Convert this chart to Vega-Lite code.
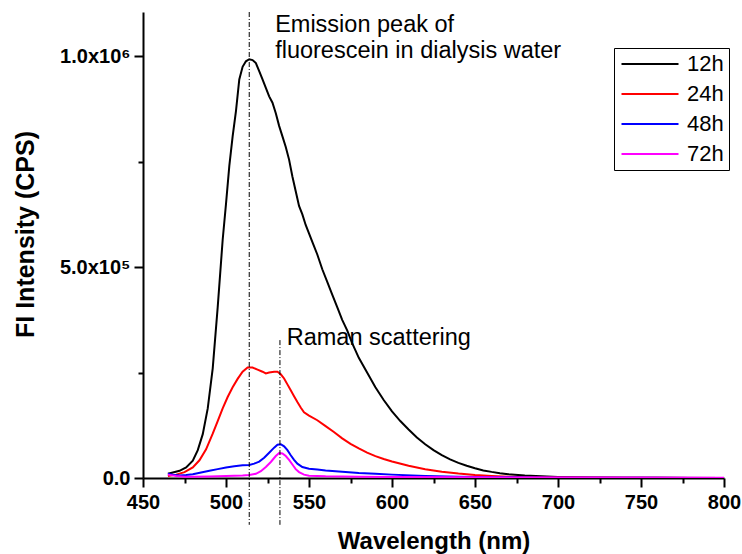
{
  "$schema": "https://vega.github.io/schema/vega-lite/v6.json",
  "width": 581,
  "height": 466,
  "autosize": {"type": "none"},
  "padding": {"left": 143, "top": 12, "right": 18, "bottom": 76},
  "config": {
    "font": "Liberation Sans",
    "view": {"stroke": null},
    "axis": {"grid": false, "domainColor": "#000", "tickColor": "#000", "labelColor": "#000", "titleColor": "#000", "domainWidth": 2, "tickWidth": 2, "labelFlush": false}
  },
  "datasets": {
    "curves": [
      {"s":"12h","w":465,"v":10000},{"s":"12h","w":468,"v":13000},{"s":"12h","w":472,"v":17000},{"s":"12h","w":476,"v":25000},{"s":"12h","w":480,"v":41000},{"s":"12h","w":483,"v":66000},{"s":"12h","w":486,"v":104000},{"s":"12h","w":489,"v":165000},{"s":"12h","w":492,"v":260000},{"s":"12h","w":495,"v":405000},{"s":"12h","w":498,"v":565000},{"s":"12h","w":500,"v":650000},{"s":"12h","w":502,"v":740000},{"s":"12h","w":504,"v":810000},{"s":"12h","w":506,"v":870000},{"s":"12h","w":508,"v":945000},{"s":"12h","w":510,"v":975000},{"s":"12h","w":512,"v":988000},{"s":"12h","w":514,"v":993000},{"s":"12h","w":516,"v":991000},{"s":"12h","w":518,"v":984000},{"s":"12h","w":520,"v":965000},{"s":"12h","w":522,"v":945000},{"s":"12h","w":524,"v":925000},{"s":"12h","w":526,"v":905000},{"s":"12h","w":528,"v":890000},{"s":"12h","w":530,"v":865000},{"s":"12h","w":532,"v":835000},{"s":"12h","w":534,"v":810000},{"s":"12h","w":536,"v":785000},{"s":"12h","w":538,"v":755000},{"s":"12h","w":540,"v":715000},{"s":"12h","w":542,"v":680000},{"s":"12h","w":544,"v":645000},{"s":"12h","w":546,"v":625000},{"s":"12h","w":548,"v":600000},{"s":"12h","w":550,"v":580000},{"s":"12h","w":552,"v":560000},{"s":"12h","w":555,"v":530000},{"s":"12h","w":558,"v":495000},{"s":"12h","w":561,"v":465000},{"s":"12h","w":564,"v":435000},{"s":"12h","w":567,"v":405000},{"s":"12h","w":570,"v":375000},{"s":"12h","w":573,"v":350000},{"s":"12h","w":576,"v":320000},{"s":"12h","w":580,"v":285000},{"s":"12h","w":585,"v":250000},{"s":"12h","w":590,"v":215000},{"s":"12h","w":595,"v":185000},{"s":"12h","w":600,"v":158000},{"s":"12h","w":605,"v":135000},{"s":"12h","w":610,"v":115000},{"s":"12h","w":615,"v":96000},{"s":"12h","w":620,"v":80000},{"s":"12h","w":625,"v":66000},{"s":"12h","w":630,"v":54000},{"s":"12h","w":635,"v":44000},{"s":"12h","w":640,"v":36000},{"s":"12h","w":645,"v":29000},{"s":"12h","w":650,"v":23000},{"s":"12h","w":655,"v":18000},{"s":"12h","w":660,"v":14500},{"s":"12h","w":665,"v":11500},{"s":"12h","w":670,"v":9000},{"s":"12h","w":680,"v":6000},{"s":"12h","w":690,"v":4000},{"s":"12h","w":700,"v":2500},{"s":"12h","w":710,"v":1500},{"s":"12h","w":720,"v":1000},{"s":"12h","w":740,"v":500},{"s":"12h","w":760,"v":300},{"s":"12h","w":780,"v":200},{"s":"12h","w":800,"v":100},
      {"s":"24h","w":465,"v":5000},{"s":"24h","w":470,"v":8000},{"s":"24h","w":475,"v":14000},{"s":"24h","w":480,"v":25000},{"s":"24h","w":484,"v":42000},{"s":"24h","w":488,"v":68000},{"s":"24h","w":492,"v":105000},{"s":"24h","w":495,"v":135000},{"s":"24h","w":498,"v":165000},{"s":"24h","w":501,"v":192000},{"s":"24h","w":504,"v":215000},{"s":"24h","w":507,"v":235000},{"s":"24h","w":510,"v":252000},{"s":"24h","w":513,"v":262000},{"s":"24h","w":516,"v":262000},{"s":"24h","w":519,"v":257000},{"s":"24h","w":522,"v":252000},{"s":"24h","w":524,"v":248000},{"s":"24h","w":526,"v":250000},{"s":"24h","w":529,"v":252000},{"s":"24h","w":531,"v":252000},{"s":"24h","w":533,"v":246000},{"s":"24h","w":535,"v":236000},{"s":"24h","w":537,"v":222000},{"s":"24h","w":539,"v":208000},{"s":"24h","w":541,"v":194000},{"s":"24h","w":543,"v":180000},{"s":"24h","w":545,"v":167000},{"s":"24h","w":547,"v":156000},{"s":"24h","w":550,"v":148000},{"s":"24h","w":555,"v":137000},{"s":"24h","w":560,"v":123000},{"s":"24h","w":565,"v":109000},{"s":"24h","w":570,"v":94000},{"s":"24h","w":575,"v":81000},{"s":"24h","w":580,"v":70000},{"s":"24h","w":585,"v":60000},{"s":"24h","w":590,"v":52000},{"s":"24h","w":595,"v":45000},{"s":"24h","w":600,"v":39000},{"s":"24h","w":610,"v":29000},{"s":"24h","w":620,"v":21000},{"s":"24h","w":630,"v":15000},{"s":"24h","w":640,"v":10500},{"s":"24h","w":650,"v":7000},{"s":"24h","w":660,"v":4800},{"s":"24h","w":670,"v":3200},{"s":"24h","w":680,"v":2000},{"s":"24h","w":700,"v":1000},{"s":"24h","w":750,"v":300},{"s":"24h","w":800,"v":100},
      {"s":"48h","w":465,"v":10000},{"s":"48h","w":468,"v":8000},{"s":"48h","w":472,"v":6000},{"s":"48h","w":476,"v":7000},{"s":"48h","w":480,"v":9000},{"s":"48h","w":485,"v":13000},{"s":"48h","w":490,"v":17000},{"s":"48h","w":495,"v":21000},{"s":"48h","w":500,"v":25000},{"s":"48h","w":505,"v":28000},{"s":"48h","w":510,"v":30000},{"s":"48h","w":514,"v":31000},{"s":"48h","w":517,"v":34000},{"s":"48h","w":520,"v":39000},{"s":"48h","w":523,"v":48000},{"s":"48h","w":526,"v":60000},{"s":"48h","w":529,"v":72000},{"s":"48h","w":531,"v":79000},{"s":"48h","w":533,"v":80000},{"s":"48h","w":535,"v":75000},{"s":"48h","w":537,"v":66000},{"s":"48h","w":539,"v":54000},{"s":"48h","w":541,"v":43000},{"s":"48h","w":543,"v":34000},{"s":"48h","w":546,"v":26000},{"s":"48h","w":550,"v":22000},{"s":"48h","w":555,"v":20000},{"s":"48h","w":560,"v":18000},{"s":"48h","w":570,"v":15000},{"s":"48h","w":580,"v":12000},{"s":"48h","w":590,"v":10000},{"s":"48h","w":600,"v":8000},{"s":"48h","w":620,"v":5000},{"s":"48h","w":640,"v":3000},{"s":"48h","w":660,"v":2000},{"s":"48h","w":680,"v":1200},{"s":"48h","w":700,"v":800},{"s":"48h","w":750,"v":300},{"s":"48h","w":800,"v":100},
      {"s":"72h","w":465,"v":8000},{"s":"72h","w":470,"v":5000},{"s":"72h","w":475,"v":3000},{"s":"72h","w":480,"v":3000},{"s":"72h","w":490,"v":3500},{"s":"72h","w":500,"v":4500},{"s":"72h","w":510,"v":6000},{"s":"72h","w":514,"v":7000},{"s":"72h","w":518,"v":10000},{"s":"72h","w":521,"v":16000},{"s":"72h","w":524,"v":26000},{"s":"72h","w":527,"v":38000},{"s":"72h","w":530,"v":52000},{"s":"72h","w":532,"v":59000},{"s":"72h","w":534,"v":58000},{"s":"72h","w":536,"v":52000},{"s":"72h","w":538,"v":43000},{"s":"72h","w":540,"v":32000},{"s":"72h","w":542,"v":21000},{"s":"72h","w":544,"v":14000},{"s":"72h","w":547,"v":8000},{"s":"72h","w":550,"v":5500},{"s":"72h","w":560,"v":4000},{"s":"72h","w":580,"v":3000},{"s":"72h","w":600,"v":2500},{"s":"72h","w":650,"v":1500},{"s":"72h","w":700,"v":1000},{"s":"72h","w":800,"v":500}
    ],
    "rules": [
      {"w": 514, "top": 1105000, "bot": -111000},
      {"w": 532.5, "top": 327000, "bot": -111000}
    ],
    "notes": [
      {"w": 529.6, "v": 1058000, "t": "Emission peak of"},
      {"w": 529.6, "v": 995000, "t": "fluorescein in dialysis water"},
      {"w": 536.6, "v": 315400, "t": "Raman scattering"}
    ]
  },
  "layer": [
    {
      "data": {"name": "curves"},
      "mark": {"type": "line", "strokeWidth": 2, "clip": true},
      "encoding": {
        "x": {
          "field": "w", "type": "quantitative",
          "scale": {"domain": [450, 800], "nice": false, "zero": false},
          "axis": {
            "values": [450,475,500,525,550,575,600,625,650,675,700,725,750,775,800],
            "labelExpr": "datum.value % 50 === 0 ? datum.label : ''",
            "tickSize": {"condition": {"test": "datum.value % 50 !== 0", "value": 5}, "value": 9},
            "labelFontSize": 20, "labelFontWeight": "bold", "labelPadding": 5,
            "title": "Wavelength (nm)", "titleFontSize": 24, "titleFontWeight": "bold",
            "titleY": 70, "titleBaseline": "alphabetic"
          }
        },
        "y": {
          "field": "v", "type": "quantitative",
          "scale": {"domain": [0, 1105000], "nice": false},
          "axis": {
            "values": [0, 250000, 500000, 750000, 1000000],
            "labelExpr": "datum.value == 0 ? '0.0' : datum.value == 500000 ? '5.0x10⁵' : datum.value == 1000000 ? '1.0x10⁶' : ''",
            "tickSize": {"condition": {"test": "datum.value % 500000 !== 0", "value": 5}, "value": 9},
            "labelFontSize": 20, "labelFontWeight": "bold", "labelPadding": 4,
            "title": "FI Intensity (CPS)", "titleFontSize": 25, "titleFontWeight": "bold",
            "titleX": -118, "titleY": 222, "titleBaseline": "middle"
          }
        },
        "color": {
          "field": "s", "type": "nominal",
          "scale": {"domain": ["12h","24h","48h","72h"], "range": ["#000000","#ff0000","#0000ff","#ff00ff"]},
          "legend": {
            "title": null, "orient": "none", "legendX": 471, "legendY": 36,
            "strokeColor": "#000", "padding": 5, "fillColor": "#fff",
            "symbolType": "M-3,0H3", "symbolSize": 361, "symbolStrokeWidth": 2, "symbolOffset": 20,
            "labelFontSize": 22, "labelFont": "Liberation Sans", "labelColor": "#000",
            "labelOffset": 26, "rowPadding": 8
          }
        }
      }
    },
    {
      "data": {"name": "rules"},
      "mark": {"type": "rule", "color": "#000", "strokeWidth": 1, "strokeDash": [5, 2, 1, 2]},
      "encoding": {
        "x": {"field": "w", "type": "quantitative"},
        "y": {"field": "top", "type": "quantitative"},
        "y2": {"field": "bot"}
      }
    },
    {
      "data": {"name": "notes"},
      "mark": {"type": "text", "align": "left", "baseline": "alphabetic", "fontSize": 23.5, "font": "Liberation Sans", "color": "#000"},
      "encoding": {
        "x": {"field": "w", "type": "quantitative"},
        "y": {"field": "v", "type": "quantitative"},
        "text": {"field": "t"}
      }
    }
  ]
}
